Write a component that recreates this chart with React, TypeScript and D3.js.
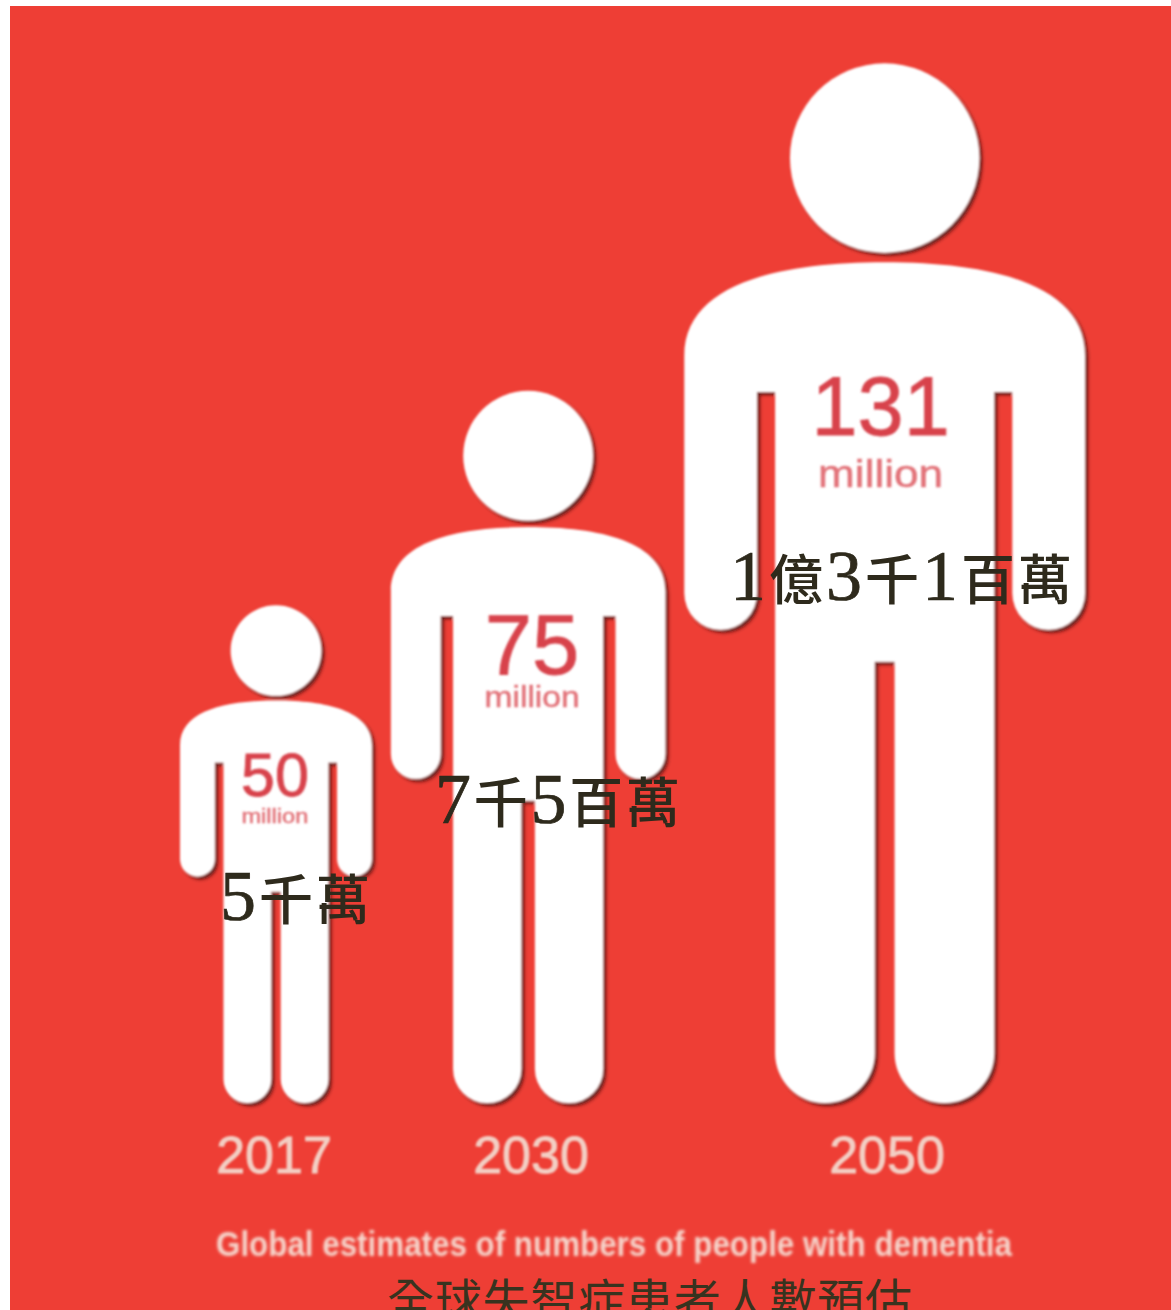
import * as d3 from "d3";

// Dementia projections, millions of people by year
const years = ["2017", "2030", "2050"];
const millions = [50, 75, 131];
const unitWord = "million";
const chineseLabels = ["5千萬", "7千5百萬", "1億3千1百萬"];
const captionEn = "Global estimates of numbers of people with dementia";
const captionZh = "全球失智症患者人數預估";

const WIDTH = 1171;
const HEIGHT = 1310;
const GROUND = 1103;
const FIRST_LEFT = 180;
const FIGURE_GAP = 19;

// Figure height and number styling grow with the value
const heightScale = d3.scaleLinear().domain(millions).range([497, 711, 1038]);
const numberSize = d3.scaleLinear().domain(millions).range([61, 85, 83]);
const unitSize = d3.scaleLinear().domain(millions).range([20, 29, 38]);
const unitLength = d3.scaleLinear().domain(millions).range([67, 95, 125]);
const numberBase = d3.scaleLinear().domain(millions).range([0.382, 0.397, 0.356]);
const unitBase = d3.scaleLinear().domain(millions).range([0.4366, 0.443, 0.4066]);
const numberShift = d3.scaleLinear().domain(millions).range([-1, 4, -4]);

// Pictogram proportions, in units of figure height
const P = {
  headY: 0.0896,
  headR: 0.0912,
  top: 0.19,
  halfWidth: 0.193,
  shoulder: 0.28,
  armEnd: 0.544,
  armInner: 0.123,
  torso: 0.1055,
  gapTop: 0.315,
  crotch: 0.575,
  legGap: 0.0096,
};

function personPath(x: d3.ScaleLinear<number, number>, y: d3.ScaleLinear<number, number>) {
  const k = (v: number) => x(v) - x(0);
  const p = d3.path();
  const armR = (P.halfWidth - P.armInner) / 2;
  const legR = (P.torso - P.legGap) / 2;
  p.moveTo(x(-P.halfWidth), y(P.shoulder));
  p.bezierCurveTo(x(-P.halfWidth), y(0.21), x(-0.1), y(P.top), x(0), y(P.top));
  p.bezierCurveTo(x(0.1), y(P.top), x(P.halfWidth), y(0.21), x(P.halfWidth), y(P.shoulder));
  p.lineTo(x(P.halfWidth), y(P.armEnd - armR));
  p.arc(x(P.halfWidth - armR), y(P.armEnd - armR), k(armR), 0, Math.PI);
  p.lineTo(x(P.armInner), y(P.gapTop));
  p.lineTo(x(P.torso), y(P.gapTop));
  p.lineTo(x(P.torso), y(1 - legR));
  p.arc(x(P.torso - legR), y(1 - legR), k(legR), 0, Math.PI);
  p.lineTo(x(P.legGap), y(P.crotch));
  p.lineTo(x(-P.legGap), y(P.crotch));
  p.lineTo(x(-P.legGap), y(1 - legR));
  p.arc(x(-P.legGap - legR), y(1 - legR), k(legR), 0, Math.PI);
  p.lineTo(x(-P.torso), y(P.gapTop));
  p.lineTo(x(-P.armInner), y(P.gapTop));
  p.lineTo(x(-P.armInner), y(P.armEnd - armR));
  p.arc(x(-P.halfWidth + armR), y(P.armEnd - armR), k(armR), 0, Math.PI);
  p.closePath();
  return p.toString();
}

// Figures stand side by side, each one placed after the previous
let cursor = FIRST_LEFT;
const figures = millions.map((value, i) => {
  const h = heightScale(value);
  const half = P.halfWidth * h;
  const cx = cursor + half;
  cursor += 2 * half + FIGURE_GAP;
  const x = d3.scaleLinear().domain([0, 1]).range([cx, cx + h]);
  const y = d3.scaleLinear().domain([0, 1]).range([GROUND - h, GROUND]);
  return { value, year: years[i], label: chineseLabels[i], cx, x, y };
});

const labelLayout = [
  { x: 220, base: 920, len: 150 },
  { x: 435, base: 823, len: 245 },
  { x: 730, base: 600, len: 342 },
];
const yearCenters = [274, 531, 887];

const zhFont = '"Liberation Serif", "Noto Sans CJK TC", serif';
const latinFont = '"Liberation Sans", Arial, sans-serif';

export default function App() {
  return (
    <svg
      width={WIDTH}
      height={HEIGHT}
      viewBox={`0 0 ${WIDTH} ${HEIGHT}`}
      style={{ position: "absolute", left: 0, top: 0, background: "#fff" }}
    >
      <defs>
        <filter id="figure" x="-10%" y="-10%" width="120%" height="120%">
          <feDropShadow dx="3" dy="3" stdDeviation="1.6" floodColor="#3c0c0c" floodOpacity="0.8" />
          <feGaussianBlur stdDeviation="0.9" />
        </filter>
        <filter id="soft" x="-5%" y="-20%" width="110%" height="140%">
          <feGaussianBlur stdDeviation="1" />
        </filter>
        <filter id="softer" x="-5%" y="-30%" width="110%" height="160%">
          <feGaussianBlur stdDeviation="1.5" />
        </filter>
      </defs>

      <rect x={10} y={6} width={WIDTH - 10} height={HEIGHT - 6} fill="#ee3e35" />

      {figures.map((f) => (
        <g key={f.year} filter="url(#figure)" fill="#fff">
          <circle cx={f.cx} cy={f.y(P.headY)} r={f.x(P.headR) - f.x(0)} />
          <path d={personPath(f.x, f.y)} />
        </g>
      ))}

      {figures.map((f) => (
        <g key={f.year} filter="url(#soft)" textAnchor="middle" fontFamily={latinFont} fill="#d8434c">
          <text
            x={f.cx + numberShift(f.value)}
            y={f.y(numberBase(f.value))}
            fontSize={numberSize(f.value)}
            stroke="#d8434c"
            strokeWidth={0.8}
          >
            {f.value}
          </text>
          <text
            x={f.cx + numberShift(f.value)}
            y={f.y(unitBase(f.value))}
            fontSize={unitSize(f.value)}
            textLength={unitLength(f.value)}
            lengthAdjust="spacingAndGlyphs"
            stroke="#d8434c"
            strokeWidth={0.5}
            opacity={0.75}
          >
            {unitWord}
          </text>
        </g>
      ))}

      {figures.map((f, i) => (
        <text
          key={f.year}
          x={yearCenters[i]}
          y={1173}
          textAnchor="middle"
          fontFamily={latinFont}
          fontSize={52}
          fill="#f3cfc4"
          stroke="#f3cfc4"
          strokeWidth={0.9}
          filter="url(#soft)"
        >
          {f.year}
        </text>
      ))}

      <text
        x={216}
        y={1256}
        textLength={796}
        lengthAdjust="spacingAndGlyphs"
        fontFamily={latinFont}
        fontWeight={700}
        fontSize={35}
        fill="#f6d6cc"
        filter="url(#softer)"
      >
        {captionEn}
      </text>

      {figures.map((f, i) => (
        <text
          key={f.year}
          x={labelLayout[i].x}
          y={labelLayout[i].base}
          textLength={labelLayout[i].len}
          lengthAdjust="spacing"
          fontFamily={zhFont}
          fontSize={54}
          fontWeight={500}
          fill="#2e2a1c"
        >
          {f.label.split(/(\d)/).filter(Boolean).map((part, j) =>
            /\d/.test(part) ? (
              <tspan key={j} fontSize={72} stroke="#2e2a1c" strokeWidth={0.7}>
                {part}
              </tspan>
            ) : (
              <tspan key={j}>{part}</tspan>
            )
          )}
        </text>
      ))}

      <text
        x={387}
        y={1318}
        textLength={525}
        lengthAdjust="spacing"
        fontFamily={zhFont}
        fontSize={47}
        fontWeight={400}
        fill="#38331f"
      >
        {captionZh}
      </text>
    </svg>
  );
}
